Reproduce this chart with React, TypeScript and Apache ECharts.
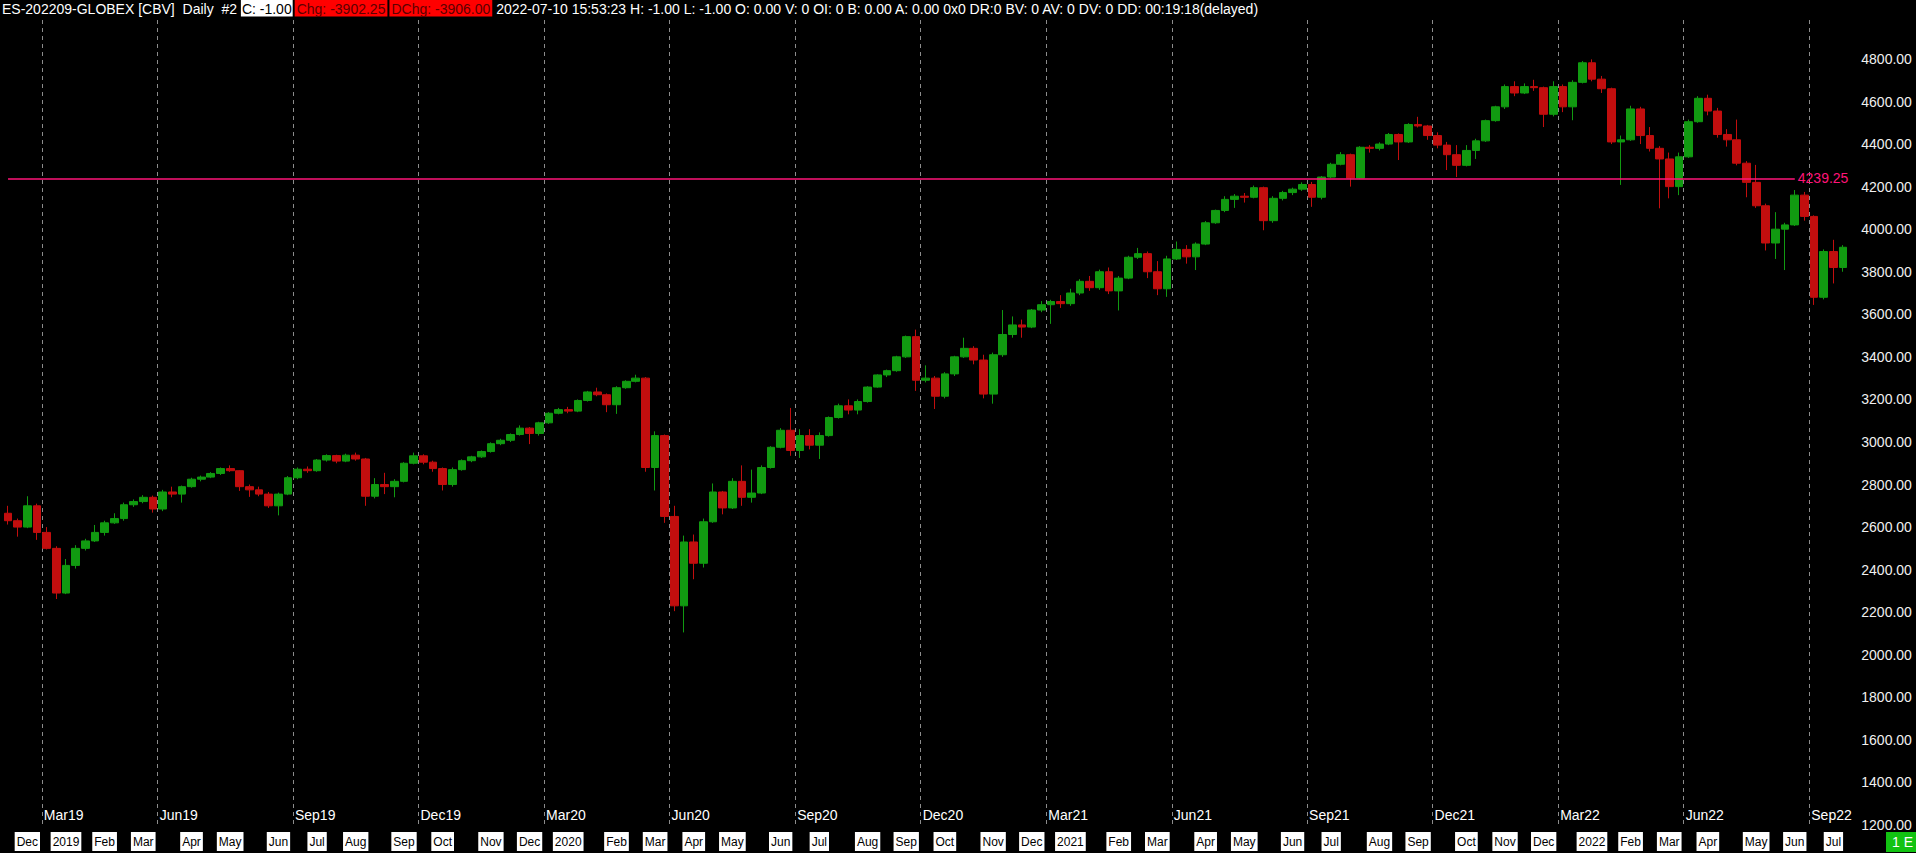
import React, { useEffect, useRef } from "react";
import * as echarts from "echarts";

// weekly bars, first week starts 2018-11-12
const opens = [
  2665, 2630, 2600, 2700, 2575, 2500, 2290, 2420, 2500, 2535, 2575, 2620, 2640, 2705, 2720, 2740, 2685, 2765, 2755, 2790,
  2825, 2835, 2852, 2875, 2865, 2790, 2775, 2755, 2700, 2755, 2832, 2872, 2865, 2915, 2936, 2910, 2938, 2920, 2745, 2800,
  2790, 2815, 2900, 2935, 2905, 2875, 2800, 2870, 2912, 2930, 2955, 2992, 3008, 3035, 3065, 3040, 3090, 3135, 3152, 3145,
  3195, 3235, 3222, 3175, 3255, 3285, 3300, 2880, 3030, 2650, 2230, 2530, 2430, 2625, 2765, 2690, 2815, 2740, 2760, 2880,
  2975, 3055, 2960, 3030, 2985, 3030, 3115, 3170, 3150, 3190, 3258, 3315, 3335, 3400, 3495, 3290, 3300, 3215, 3320, 3400,
  3440, 3385, 3225, 3410, 3505, 3550, 3540, 3620, 3645, 3660, 3650, 3700, 3755, 3725, 3800, 3710, 3770, 3868, 3885, 3800,
  3720, 3860, 3905, 3870, 3930, 4030, 4088, 4140, 4155, 4150, 4195, 4040, 4145, 4172, 4188, 4210, 4150, 4245, 4305, 4350,
  4240, 4385, 4380, 4400, 4445, 4410, 4492, 4485, 4440, 4395, 4350, 4300, 4370, 4415, 4510, 4575, 4670, 4640, 4670, 4665,
  4540, 4670, 4575, 4690, 4782, 4705, 4660, 4410, 4420, 4565, 4440, 4380, 4330, 4200, 4340, 4505, 4615, 4555, 4445, 4420,
  4310, 4220, 4110, 3935, 4000, 4020, 4160, 4060, 3680, 3895, 3820,
];
const highs = [
  2700, 2640, 2745, 2710, 2600, 2510, 2450, 2515, 2545, 2610, 2630, 2665, 2715, 2730, 2750, 2748, 2775, 2790, 2795, 2832,
  2842, 2858, 2880, 2890, 2868, 2800, 2790, 2765, 2762, 2840, 2880, 2885, 2920, 2942, 2940, 2945, 2950, 2925, 2830, 2855,
  2825, 2905, 2950, 2942, 2912, 2880, 2880, 2918, 2935, 2960, 2998, 3015, 3040, 3078, 3070, 3095, 3140, 3160, 3165, 3200,
  3240, 3255, 3228, 3262, 3290, 3316, 3305, 3050, 3035, 2700, 2560, 2565, 2640, 2805, 2770, 2830, 2890, 2870, 2890, 2980,
  3065, 3160, 3060, 3060, 3045, 3120, 3180, 3200, 3200, 3262, 3318, 3340, 3405, 3500, 3528, 3360, 3310, 3328, 3405, 3490,
  3450, 3410, 3420, 3620, 3590, 3575, 3625, 3662, 3668, 3690, 3720, 3765, 3780, 3810, 3820, 3780, 3875, 3912, 3895, 3850,
  3875, 3942, 3925, 3938, 4038, 4092, 4155, 4165, 4170, 4205, 4200, 4155, 4180, 4195, 4220, 4222, 4250, 4312, 4362, 4355,
  4390, 4395, 4408, 4452, 4450, 4498, 4528, 4490, 4455, 4410, 4395, 4395, 4425, 4515, 4580, 4680, 4695, 4685, 4702, 4670,
  4695, 4680, 4700, 4790, 4798, 4720, 4665, 4440, 4580, 4575, 4480, 4390, 4360, 4360, 4515, 4625, 4632, 4570, 4470, 4515,
  4320, 4302, 4120, 4080, 4030, 4184, 4175, 4065, 3905, 3950, 3925,
];
const lows = [
  2612, 2555, 2595, 2540, 2495, 2262, 2285, 2405, 2490, 2530, 2560, 2615, 2630, 2695, 2712, 2668, 2675, 2740, 2715, 2785,
  2815, 2830, 2845, 2860, 2770, 2742, 2745, 2690, 2655, 2750, 2825, 2855, 2860, 2908, 2900, 2905, 2912, 2700, 2735, 2755,
  2740, 2810, 2895, 2895, 2860, 2772, 2790, 2865, 2905, 2925, 2950, 2985, 3000, 3030, 2990, 3030, 3085, 3130, 3135, 3140,
  3190, 3215, 3140, 3132, 3250, 3280, 2860, 2772, 2620, 2205, 2105, 2355, 2410, 2620, 2660, 2685, 2700, 2715, 2755, 2875,
  2970, 2935, 2925, 2965, 2920, 3025, 3110, 3130, 3130, 3185, 3255, 3305, 3330, 3395, 3240, 3280, 3155, 3205, 3310, 3395,
  3365, 3205, 3180, 3400, 3490, 3490, 3535, 3610, 3555, 3630, 3640, 3690, 3710, 3715, 3695, 3618, 3765, 3860, 3770, 3690,
  3682, 3855, 3838, 3808, 3925, 4025, 4080, 4100, 4125, 4145, 3995, 4030, 4135, 4160, 4180, 4105, 4140, 4240, 4300, 4200,
  4235, 4360, 4370, 4395, 4325, 4405, 4478, 4420, 4380, 4278, 4245, 4295, 4330, 4410, 4505, 4565, 4625, 4635, 4650, 4480,
  4530, 4550, 4512, 4685, 4695, 4640, 4400, 4208, 4415, 4400, 4365, 4098, 4145, 4160, 4335, 4500, 4535, 4430, 4388, 4300,
  4150, 4100, 3900, 3860, 3808, 4015, 4040, 3644, 3670, 3745, 3800,
];
const closes = [
  2630, 2600, 2700, 2575, 2500, 2290, 2420, 2500, 2535, 2575, 2620, 2640, 2705, 2720, 2740, 2685, 2765, 2755, 2790, 2825,
  2835, 2852, 2875, 2865, 2790, 2775, 2755, 2700, 2755, 2832, 2872, 2865, 2915, 2936, 2910, 2938, 2920, 2745, 2800, 2790,
  2815, 2900, 2935, 2905, 2875, 2800, 2870, 2912, 2930, 2955, 2992, 3008, 3035, 3065, 3040, 3090, 3135, 3152, 3145, 3195,
  3235, 3222, 3175, 3255, 3285, 3300, 2880, 3030, 2650, 2230, 2530, 2430, 2625, 2765, 2690, 2815, 2740, 2760, 2880, 2975,
  3055, 2960, 3030, 2985, 3030, 3115, 3170, 3150, 3190, 3258, 3315, 3335, 3400, 3495, 3290, 3300, 3215, 3320, 3400, 3440,
  3385, 3225, 3410, 3505, 3550, 3540, 3620, 3645, 3660, 3650, 3700, 3755, 3725, 3800, 3710, 3770, 3868, 3885, 3800, 3720,
  3860, 3905, 3870, 3930, 4030, 4088, 4140, 4155, 4150, 4195, 4040, 4145, 4172, 4188, 4210, 4150, 4245, 4305, 4350, 4240,
  4385, 4380, 4400, 4445, 4410, 4492, 4485, 4440, 4395, 4350, 4300, 4370, 4415, 4510, 4575, 4670, 4640, 4670, 4665, 4540,
  4670, 4575, 4690, 4782, 4705, 4660, 4410, 4420, 4565, 4440, 4380, 4330, 4200, 4340, 4505, 4615, 4555, 4445, 4420, 4310,
  4220, 4110, 3935, 4000, 4020, 4160, 4060, 3680, 3895, 3820, 3915,
];

// contract labels on the dashed roll lines (week in which the line sits)
const rollWeeks = [
  "2018-12-10", "2019-03-04", "2019-06-10", "2019-09-09", "2019-12-09", "2020-03-09", "2020-06-08", "2020-09-07",
  "2020-12-07", "2021-03-08", "2021-06-14", "2021-09-13", "2021-12-13", "2022-03-14", "2022-06-13",
];
const rollLabels = [
  "Mar19", "Jun19", "Sep19", "Dec19", "Mar20", "Jun20", "Sep20", "Dec20",
  "Mar21", "Jun21", "Sep21", "Dec21", "Mar22", "Jun22", "Sep22",
];

// month boxes along the bottom
const monthWeeks = [
  "2018-11-26", "2018-12-24", "2019-01-21", "2019-02-18", "2019-03-25", "2019-04-22", "2019-05-27", "2019-06-24",
  "2019-07-22", "2019-08-26", "2019-09-23", "2019-10-28", "2019-11-25", "2019-12-23", "2020-01-27", "2020-02-24",
  "2020-03-23", "2020-04-20", "2020-05-25", "2020-06-22", "2020-07-27", "2020-08-24", "2020-09-21", "2020-10-26",
  "2020-11-23", "2020-12-21", "2021-01-25", "2021-02-22", "2021-03-29", "2021-04-26", "2021-05-31", "2021-06-28",
  "2021-08-02", "2021-08-30", "2021-10-04", "2021-11-01", "2021-11-29", "2022-01-03", "2022-01-31", "2022-02-28",
  "2022-03-28", "2022-05-02", "2022-05-30", "2022-06-27",
];
const monthLabels = [
  "Dec", "2019", "Feb", "Mar", "Apr", "May", "Jun", "Jul", "Aug", "Sep", "Oct", "Nov", "Dec", "2020", "Feb", "Mar",
  "Apr", "May", "Jun", "Jul", "Aug", "Sep", "Oct", "Nov", "Dec", "2021", "Feb", "Mar", "Apr", "May", "Jun", "Jul",
  "Aug", "Sep", "Oct", "Nov", "Dec", "2022", "Feb", "Mar", "Apr", "May", "Jun", "Jul",
];

const PIVOT = 4239.25;
const PIVOT_END_WEEK = "2022-05-30";

const HEADER_NAME = "ES-202209-GLOBEX [CBV]  Daily  #2 ";
const HEADER_CLOSE = "C: -1.00";
const HEADER_CHG = "Chg: -3902.25";
const HEADER_DCHG = "DChg: -3906.00";
const HEADER_REST =
  " 2022-07-10 15:53:23 H: -1.00 L: -1.00 O: 0.00 V: 0 OI: 0 B: 0.00 A: 0.00 0x0 DR:0 BV: 0 AV: 0 DV: 0 DD: 00:19:18(delayed)";

const FONT = "'Liberation Sans', Arial, sans-serif";
const UP = "#119a11";
const DOWN = "#c20e0e";

const weekStart = (i: number) =>
  new Date(Date.UTC(2018, 10, 12) + i * 7 * 86400000).toISOString().slice(0, 10);

export default function App() {
  const chartRef = useRef<HTMLDivElement>(null);

  useEffect(() => {
    document.body.style.margin = "0";
    document.body.style.background = "#000";
    if (!chartRef.current) return;
    const chart = echarts.init(chartRef.current, undefined, { renderer: "svg" });

    const weeks = opens.map((_, i) => weekStart(i));
    // one extra boundary so the roll lines can sit between bars
    const bounds = [...weeks, weekStart(weeks.length)];
    const candles = opens.map((o, i) => [o, closes[i], lows[i], highs[i]]);

    const rollMap: Record<string, string> = {};
    rollWeeks.forEach((w, i) => (rollMap[w] = rollLabels[i]));
    const monthMap: Record<string, string> = {};
    monthWeeks.forEach((w, i) => (monthMap[w] = monthLabels[i]));

    const txt = { fontSize: 14, fontFamily: FONT, fontWeight: "normal", lineHeight: 16 };

    const option: any = {
      backgroundColor: "#000",
      animation: false,
      title: {
        left: 2,
        top: 0,
        padding: 0,
        text:
          `{w|${HEADER_NAME}}{c|${HEADER_CLOSE}}{s| }{r|${HEADER_CHG}}{s| }{r|${HEADER_DCHG}}{w|${HEADER_REST}}`,
        textStyle: {
          fontWeight: "normal",
          fontSize: 14,
          fontFamily: FONT,
          rich: {
            w: { ...txt, color: "#ffffff", padding: [2, 0, 1, 0] },
            c: { ...txt, color: "#000000", backgroundColor: "#ffffff", padding: [2, 1, 1, 1] },
            r: { ...txt, color: "#5c0000", backgroundColor: "#ff0000", padding: [2, 2, 1, 2] },
            s: { ...txt, width: 2 },
          },
        },
      },
      grid: { left: 3.2, right: 68.1, top: 20, bottom: 28 },
      xAxis: [
        {
          type: "category",
          data: weeks,
          boundaryGap: true,
          position: "bottom",
          axisLine: { show: false, onZero: false },
          axisTick: { show: false },
          splitLine: { show: false },
          axisLabel: {
            interval: (_: number, v: string) => v in monthMap,
            formatter: (v: string) => monthMap[v] || "",
            margin: 7,
            color: "#000",
            backgroundColor: "#fff",
            padding: [2, 2, 2, 2],
            fontSize: 12,
            lineHeight: 15,
            fontFamily: FONT,
          },
        },
        {
          type: "category",
          data: bounds,
          boundaryGap: false,
          position: "bottom",
          axisLine: { show: false, onZero: false },
          axisTick: { show: false },
          splitLine: {
            show: true,
            interval: (_: number, v: string) => v in rollMap,
            lineStyle: { color: "#8c8c8c", width: 1, type: [4, 4] },
          },
          axisLabel: {
            inside: true,
            interval: (_: number, v: string) => v in rollMap,
            formatter: (v: string) => rollMap[v] || "",
            align: "left",
            margin: 3,
            padding: [0, 0, 0, 2],
            color: "#ffffff",
            fontSize: 14,
            fontFamily: FONT,
          },
        },
      ],
      yAxis: {
        type: "value",
        position: "right",
        min: 1200,
        max: 4983,
        interval: 200,
        axisLine: { show: false },
        axisTick: { show: false },
        splitLine: { show: false },
        axisLabel: {
          align: "right",
          margin: 64,
          color: "#f0f0f0",
          fontSize: 14,
          fontFamily: FONT,
          formatter: (v: number) => (v % 200 === 0 && v <= 4800 ? v.toFixed(2) : ""),
        },
      },
      series: [
        {
          type: "candlestick",
          data: candles,
          barWidth: "85%",
          itemStyle: { color: UP, color0: DOWN, borderColor: UP, borderColor0: DOWN, borderWidth: 1 },
          markLine: {
            silent: true,
            symbol: ["none", "none"],
            lineStyle: { color: "#ff1478", width: 1.5, type: "solid" },
            label: {
              show: true,
              position: "end",
              distance: 3,
              color: "#ff1478",
              fontSize: 14,
              fontFamily: FONT,
              formatter: () => PIVOT.toFixed(2),
            },
            data: [[{ coord: [weeks[0], PIVOT] }, { coord: [PIVOT_END_WEEK, PIVOT] }]],
          },
        },
      ],
      graphic: [
        { type: "rect", z: 100, shape: { x: 1850, y: 830, width: 66, height: 23 }, style: { fill: "#000" } },
        {
          type: "text",
          z: 101,
          x: 1886,
          y: 832,
          style: {
            text: "1 E",
            fill: "#ffffff",
            backgroundColor: "#12c312",
            padding: [2, 6, 2, 6],
            fontSize: 14,
            lineHeight: 16,
            fontFamily: FONT,
          },
        },
      ],
    };

    chart.setOption(option);
    return () => chart.dispose();
  }, []);

  return <div ref={chartRef} style={{ width: 1916, height: 853 }} />;
}
